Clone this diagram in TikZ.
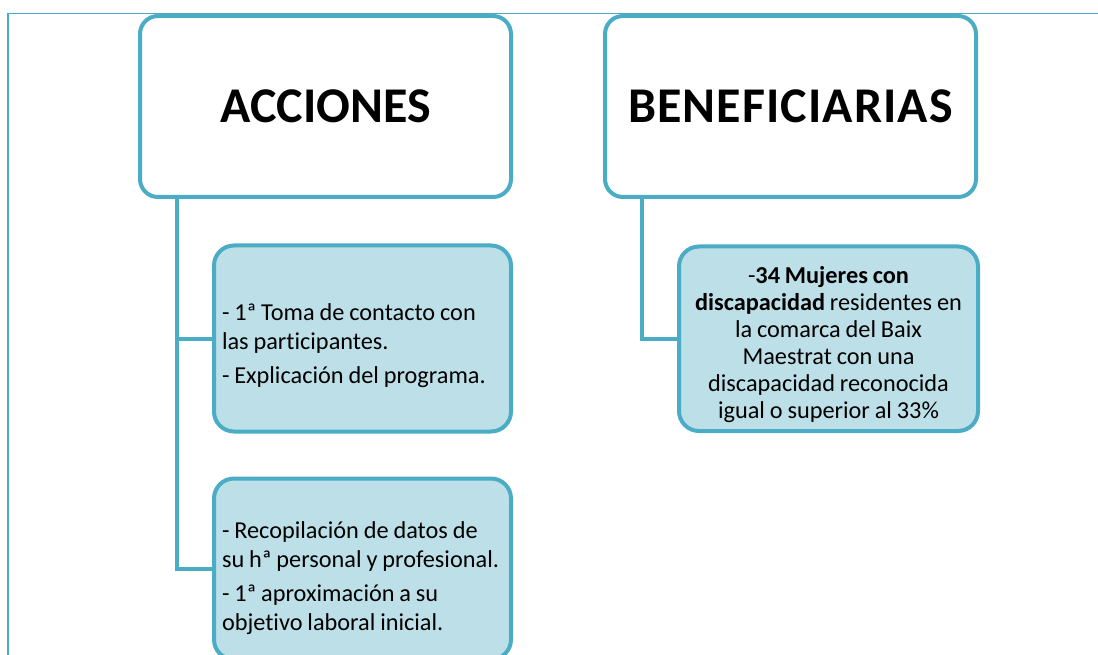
\documentclass[tikz,border=0pt]{standalone}
\usepackage{fontspec}
\setmainfont{Carlito}[Ligatures=NoCommon]
\definecolor{accblue}{HTML}{4BACC6}
\definecolor{fillblue}{HTML}{BDE0E8}
\newcommand\tightspace{\spaceskip=0.2em\relax}
\begin{document}
\begin{tikzpicture}[x=1pt,y=-1pt,
  headbox/.style={draw=accblue, line width=4pt, rounded corners=18pt, fill=white,
    minimum width=371pt, minimum height=181pt, inner sep=0pt, outer sep=0pt,
    font=\fontsize{50}{60}\selectfont\bfseries},
  subbox/.style={draw=accblue, line width=4pt, rounded corners=20pt, fill=fillblue,
    inner ysep=0pt, outer sep=0pt, font=\fontsize{24.3}{29}\selectfont},
  conn/.style={draw=accblue, line width=4pt},
  frameline/.style={draw=accblue, line width=1.6pt}]
\useasboundingbox (0,0) rectangle (1098,655);
\clip (0,0) rectangle (1098,655);
\fill[white] (0,0) rectangle (1098,655);
\coordinate (fbot) at (8,655);
\coordinate (fcorner) at (8,13.5);
\coordinate (fright) at (1098,13.5);
\draw[frameline] (fbot) -- (fcorner) -- (fright);

\node[headbox] (acc) at (325.5,106.5) {ACCIONES};
\node[headbox] (ben) at (790.5,106.5) {\addfontfeature{LetterSpace=2.2}BENEFICIARIAS};

\node[subbox, text width=281pt, inner xsep=8pt, align=left, minimum height=186pt] (b1) at (362.5,338.5)
  {\vskip3pt\tightspace\mbox{- 1ª Toma de contacto con}\\ \mbox{las participantes.}\\[5pt] \mbox{- Explicación del programa.}};
\node[subbox, text width=281pt, inner xsep=8pt, align=left, minimum height=181pt] (b2) at (362.5,569)
  {\vskip6pt\tightspace\mbox{- Recopilación de datos de}\\ \mbox{su hª personal y profesional.}\\[5pt] \mbox{- 1ª aproximación a su}\\ \mbox{objetivo laboral inicial.}};
\node[subbox, text width=283pt, inner xsep=8pt, align=center, minimum height=184.5pt,
  font=\fontsize{24.3}{27}\selectfont] (b3) at (828.5,338.75)
  {\vskip1.5pt\tightspace -\textbf{34 Mujeres con}\\ \textbf{discapacidad} residentes en\\ la comarca del Baix\\ Maestrat con una\\ discapacidad reconocida\\ igual o superior al 33\%};

\coordinate (ta) at (acc.south -| 176.5,0);
\coordinate (tb) at (ben.south -| 642,0);
\draw[conn] (ta) |- (b1.west);
\draw[conn] (ta) |- (b2.west);
\draw[conn] (tb) |- (b3.west);
\end{tikzpicture}
\end{document}
